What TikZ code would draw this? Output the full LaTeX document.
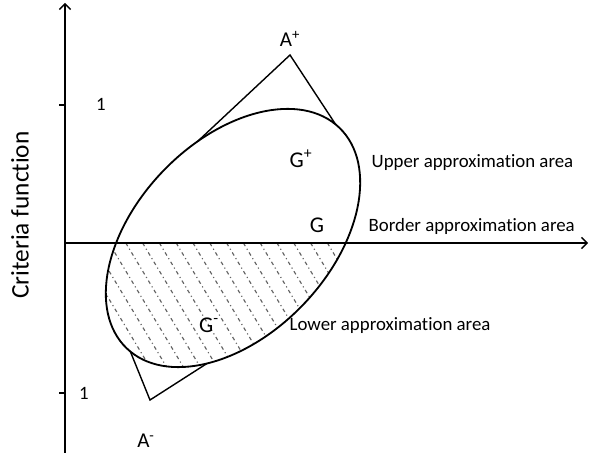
\documentclass[tikz,border=0pt]{standalone}
\usepackage{fontspec}
\setmainfont{Carlito}[Ligatures=NoCommon]
\usetikzlibrary{arrows.meta}
\definecolor{hatchgray}{RGB}{100,100,100}
\tikzset{
  axis/.style={line width=1pt, -{Straight Barb[length=4pt,width=8pt]}},
  outline/.style={line width=1.3pt},
  kite/.style={line width=1pt},
  hatchline/.style={hatchgray, line width=0.8pt,
              dash pattern=on 2.6pt off 2.2pt on 0.8pt off 2.2pt},
  lbl/.style={font=\fontsize{13.4}{15}\selectfont, inner sep=1pt},
  albl/.style={font=\fontsize{15}{17}\selectfont, inner sep=1pt},
  glbl/.style={font=\fontsize{16}{18}\selectfont, inner sep=1pt},
  area/.style={lbl, anchor=west},
  tick/.style={line width=0.8pt},
}

\begin{document}
\begin{tikzpicture}
        \useasboundingbox (-1.625,-5.25) rectangle (13.125,6.075);
        \coordinate (O) at (0,0);
        \coordinate (ybot) at (0,-5.25);
        \coordinate (ytop) at (0,6.0);
        \coordinate (xend) at (13.075,0);
        \coordinate (tickhi) at (-0.15,3.45);
        \coordinate (ticklo) at (-0.15,-3.75);
        \coordinate (apexhi) at (5.625,4.7);
        \coordinate (apexlo) at (2.125,-3.925);
        \begin{scope}[shift={(4.2,0.125)},rotate=46]
          \coordinate (ec) at (0,0);
          \coordinate (thl) at (73:3.83cm and 2.42cm);
          \coordinate (thr) at (3:3.83cm and 2.42cm);
          \coordinate (tll) at (183:3.83cm and 2.42cm);
          \coordinate (tlr) at (225:3.83cm and 2.42cm);
        \end{scope}
        \begin{scope}
          \clip (-1,0) rectangle (9,-5);
          \clip[shift={(4.2,0.125)},rotate=46] (0,0) ellipse [x radius=3.83, y radius=2.42];
          \foreach \x in {-1.0,-0.58,...,7.2}
            \draw[hatchline] (\x,0) -- ++(2.4,-4);
        \end{scope}
        \draw[outline,shift={(4.2,0.125)},rotate=46] (ec) ellipse [x radius=3.83, y radius=2.42];
        \draw[kite] (thl) -- (apexhi) -- (thr);
        \draw[kite] (tll) -- (apexlo) -- (tlr);
        \draw[axis] (ybot) -- (ytop);
        \draw[axis] (O) -- (xend);
        \draw[tick] (tickhi) -- (0,3.45);
        \draw[tick] (ticklo) -- (0,-3.75);
        \node[lbl] (onehi) at (0.9,3.475) {1};
        \node[lbl] (onelo) at (0.475,-3.75) {1};
        \node[albl] (aplus) at (5.625,5.1) {A\textsuperscript{+}};
        \node[albl] (aminus) at (2.025,-4.95) {A\textsuperscript{-}};
        \node[glbl] (gplus) at (5.9,2.1) {G\textsuperscript{+}};
        \node[glbl] (gzero) at (6.3,0.45) {G};
        \node[glbl] (gminus) at (3.6,-2.05) {G\textsuperscript{-}};
        \node[area] (upper) at (7.625,2.0) {Upper approximation area};
        \node[area] (border) at (7.55,0.425) {Border approximation area};
        \node[area] (lower) at (5.575,-2.075) {Lower approximation area};
        \node[lbl,font=\fontsize{18}{20}\selectfont,rotate=90] (crit) at (-1.125,0.7) {Criteria function};
\end{tikzpicture}
\end{document}
